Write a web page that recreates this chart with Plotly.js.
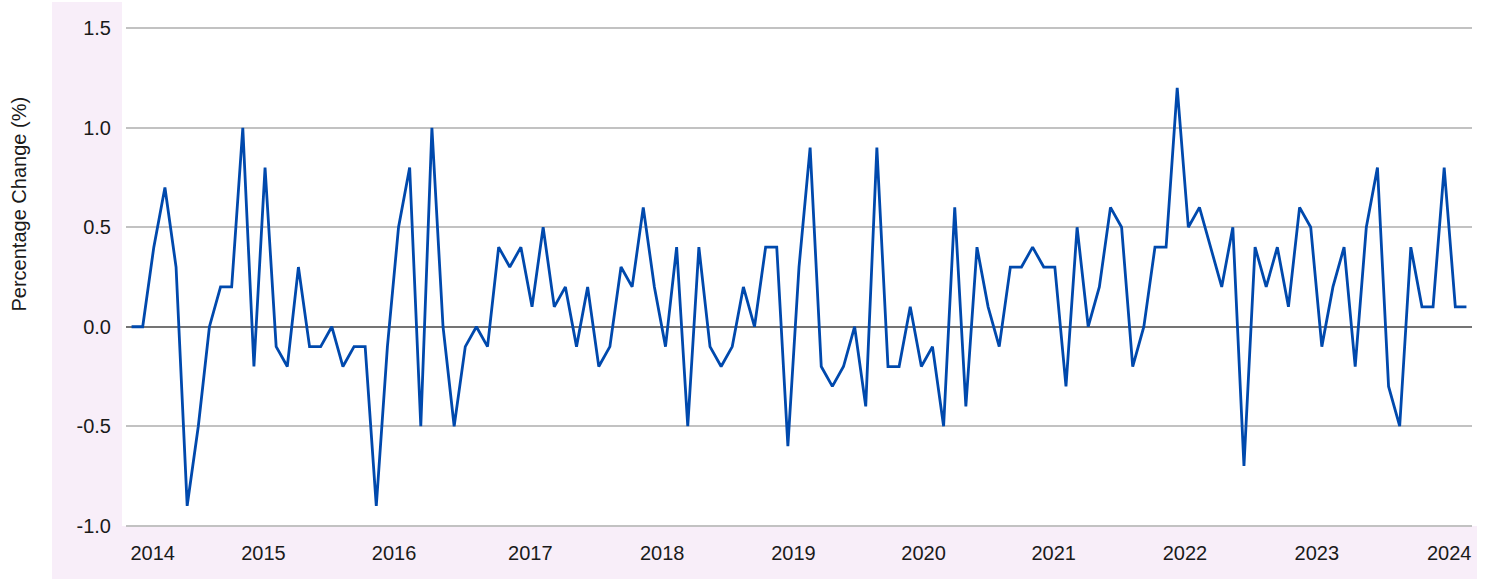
<!DOCTYPE html>
<html>
<head>
<meta charset="utf-8">
<script src="https://cdn.plot.ly/plotly-3.0.1.min.js"></script>
<style>
  html, body { margin: 0; padding: 0; background: #ffffff; }
  #chart { width: 1488px; height: 579px; }
</style>
</head>
<body>
<div id="chart"></div>
<script>
// Monthly categories, Jan 2014 .. Jan 2024
const months = [
  '2014-01','2014-02','2014-03','2014-04','2014-05','2014-06','2014-07','2014-08','2014-09','2014-10','2014-11','2014-12',
  '2015-01','2015-02','2015-03','2015-04','2015-05','2015-06','2015-07','2015-08','2015-09','2015-10','2015-11','2015-12',
  '2016-01','2016-02','2016-03','2016-04','2016-05','2016-06','2016-07','2016-08','2016-09','2016-10','2016-11','2016-12',
  '2017-01','2017-02','2017-03','2017-04','2017-05','2017-06','2017-07','2017-08','2017-09','2017-10','2017-11','2017-12',
  '2018-01','2018-02','2018-03','2018-04','2018-05','2018-06','2018-07','2018-08','2018-09','2018-10','2018-11','2018-12',
  '2019-01','2019-02','2019-03','2019-04','2019-05','2019-06','2019-07','2019-08','2019-09','2019-10','2019-11','2019-12',
  '2020-01','2020-02','2020-03','2020-04','2020-05','2020-06','2020-07','2020-08','2020-09','2020-10','2020-11','2020-12',
  '2021-01','2021-02','2021-03','2021-04','2021-05','2021-06','2021-07','2021-08','2021-09','2021-10','2021-11','2021-12',
  '2022-01','2022-02','2022-03','2022-04','2022-05','2022-06','2022-07','2022-08','2022-09','2022-10','2022-11','2022-12',
  '2023-01','2023-02','2023-03','2023-04','2023-05','2023-06','2023-07','2023-08','2023-09','2023-10','2023-11','2023-12',
  '2024-01'
];

// Monthly percentage change (%)
const pctChange = [
  0.0, 0.0, 0.4, 0.7, 0.3, -0.9, -0.5, 0.0, 0.2, 0.2, 1.0, -0.2,
  0.8, -0.1, -0.2, 0.3, -0.1, -0.1, 0.0, -0.2, -0.1, -0.1, -0.9, -0.1,
  0.5, 0.8, -0.5, 1.0, 0.0, -0.5, -0.1, 0.0, -0.1, 0.4, 0.3, 0.4,
  0.1, 0.5, 0.1, 0.2, -0.1, 0.2, -0.2, -0.1, 0.3, 0.2, 0.6, 0.2,
  -0.1, 0.4, -0.5, 0.4, -0.1, -0.2, -0.1, 0.2, 0.0, 0.4, 0.4, -0.6,
  0.3, 0.9, -0.2, -0.3, -0.2, 0.0, -0.4, 0.9, -0.2, -0.2, 0.1, -0.2,
  -0.1, -0.5, 0.6, -0.4, 0.4, 0.1, -0.1, 0.3, 0.3, 0.4, 0.3, 0.3,
  -0.3, 0.5, 0.0, 0.2, 0.6, 0.5, -0.2, 0.0, 0.4, 0.4, 1.2, 0.5,
  0.6, 0.4, 0.2, 0.5, -0.7, 0.4, 0.2, 0.4, 0.1, 0.6, 0.5, -0.1,
  0.2, 0.4, -0.2, 0.5, 0.8, -0.3, -0.5, 0.4, 0.1, 0.1, 0.8, 0.1,
  0.1
];

// X tick labels (years) and where they sit along the month axis
const yearLabels = ['2014','2015','2016','2017','2018','2019','2020','2021','2022','2023','2024'];
const yearLabelPos = [1.9, 11.85, 23.6, 35.85, 47.7, 59.5, 71.2, 82.9, 94.7, 106.55, 118.45];

// Y tick labels
const yTickVals = [-1.0, -0.5, 0.0, 0.5, 1.0, 1.5];
const yTickText = ['-1.0', '-0.5', '0.0', '0.5', '1.0', '1.5'];

const yTitle = 'Percentage Change (%)';

const W = 1488, H = 579;
const M = { l: 126, r: 16, t: 2, b: 52 };
const plotW = W - M.l - M.r, plotH = H - M.t - M.b;
const px2x = p => (p - M.l) / plotW;
const px2y = p => (H - M.b - p) / plotH;

const pink = '#f8eef9';
const fontFam = '"Liberation Sans", Arial, sans-serif';
const FS = 20;

const trace = {
  type: 'scatter',
  mode: 'lines',
  x: months,
  y: pctChange,
  line: { color: '#0049ad', width: 2.8 },
  hoverinfo: 'x+y',
  showlegend: false
};

const layout = {
  width: W,
  height: H,
  margin: M,
  paper_bgcolor: '#ffffff',
  plot_bgcolor: '#ffffff',
  font: { family: fontFam, size: FS, color: '#1a1a1a' },
  showlegend: false,
  xaxis: {
    type: 'category',
    range: [-0.5, months.length - 0.5],
    showgrid: false,
    zeroline: false,
    showline: false,
    ticks: '',
    tickmode: 'array',
    tickvals: yearLabelPos,
    ticktext: yearLabels,
    ticklabelstandoff: 12,
    tickfont: { family: fontFam, size: FS, color: '#1a1a1a' },
    tickangle: 0,
    fixedrange: true
  },
  yaxis: {
    range: [-1.0065, 1.632],
    tickmode: 'array',
    tickvals: yTickVals,
    ticktext: yTickText,
    showgrid: true,
    gridcolor: '#c2c2c2',
    gridwidth: 1.6,
    zeroline: true,
    zerolinecolor: '#747474',
    zerolinewidth: 1.6,
    showline: false,
    ticks: '',
    ticklabelstandoff: 14,
    tickfont: { family: fontFam, size: FS, color: '#1a1a1a' },
    fixedrange: true
  },
  shapes: [
    { type: 'rect', xref: 'paper', yref: 'paper', layer: 'below',
      x0: px2x(52), x1: px2x(122), y0: px2y(H), y1: px2y(2),
      fillcolor: pink, line: { width: 0 } },
    { type: 'rect', xref: 'paper', yref: 'paper', layer: 'below',
      x0: px2x(52), x1: px2x(1477), y0: px2y(H), y1: px2y(526),
      fillcolor: pink, line: { width: 0 } }
  ],
  annotations: [
    { text: yTitle, xref: 'paper', yref: 'paper',
      x: px2x(18), y: px2y(203.5), xanchor: 'center', yanchor: 'middle',
      textangle: -90, showarrow: false,
      font: { family: fontFam, size: FS, color: '#1a1a1a' } }
  ]
};

Plotly.newPlot('chart', [trace], layout, { displayModeBar: false, staticPlot: true });
</script>
</body>
</html>
